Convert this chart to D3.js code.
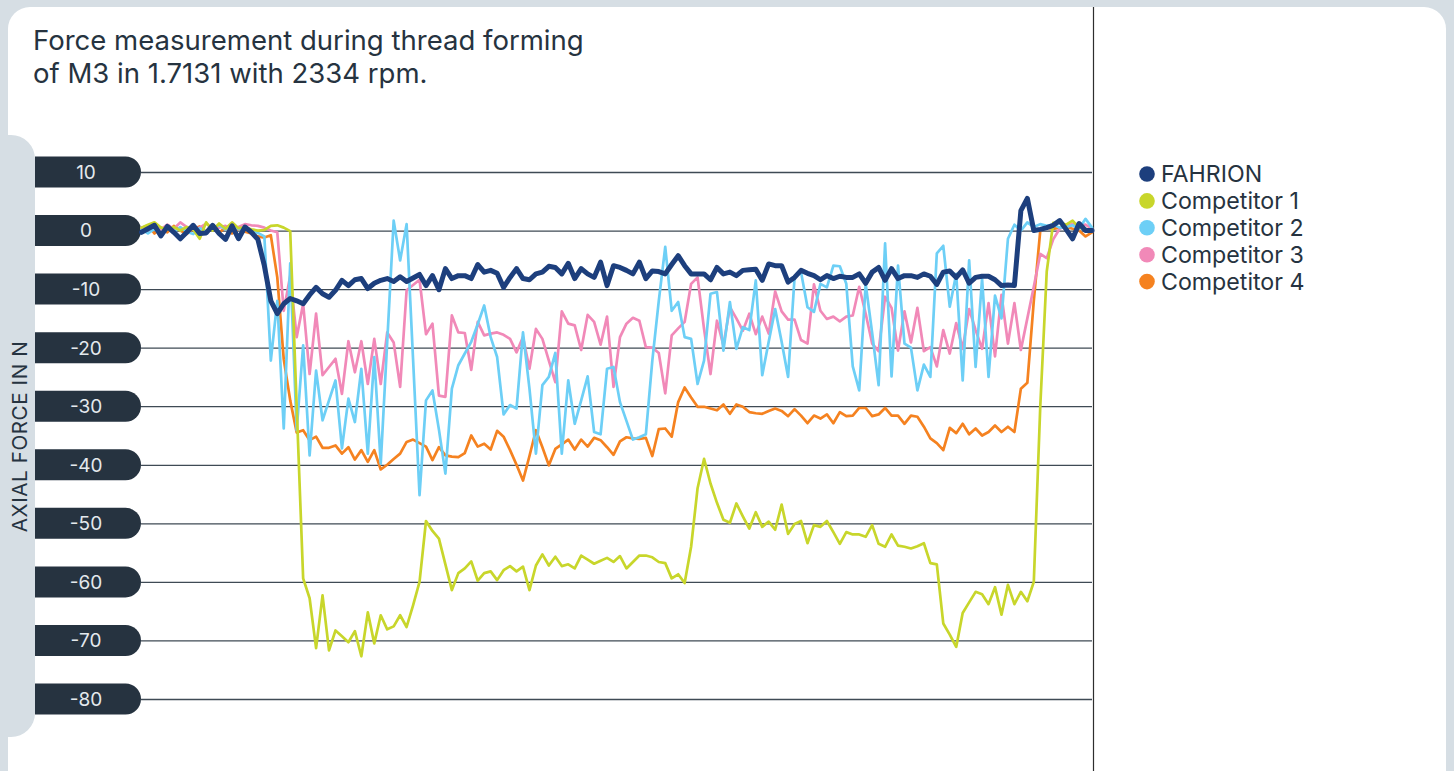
<!DOCTYPE html>
<html>
<head>
<meta charset="utf-8">
<script src="https://cdn.jsdelivr.net/npm/d3@7"></script>
<style>
  body { margin: 0; background: #d6dee4; overflow: hidden; }
  svg text { font-family: Inter, "Noto Sans", sans-serif; }
</style>
</head>
<body>
<div id="chart"></div>
<script>
const width = 1454;
const height = 771;

// ---- data ----
const titleLines = ["Force measurement during thread forming", "of M3 in 1.7131 with 2334 rpm."];
const yTicks = [10, 0, -10, -20, -30, -40, -50, -60, -70, -80];
const seriesNames = ["FAHRION", "Competitor 1", "Competitor 2", "Competitor 3", "Competitor 4"];

const fahrion = [
  -0.3, 0.3, 0.9, -0.9, 0.7, -0.3, -1.4, -0.3, 0.9, -0.5,
  -0.4, 0.9, -0.5, -1.5, 0.8, -1.4, 0.6, -0.3, -1.5, -6.0,
  -12.0, -14.2, -12.5, -11.6, -12.0, -12.5, -11.0, -9.7, -10.8, -11.4,
  -10.2, -8.5, -9.4, -8.4, -8.2, -9.9, -9.0, -8.5, -8.2, -8.7,
  -7.9, -8.7, -8.1, -7.5, -9.4, -7.7, -10.1, -6.5, -8.2, -7.7,
  -7.7, -8.2, -5.8, -7.1, -6.8, -7.3, -9.7, -8.0, -6.5, -8.2,
  -8.4, -7.4, -7.1, -6.1, -6.3, -7.4, -5.6, -8.2, -6.5, -7.4,
  -8.0, -5.4, -9.4, -6.0, -6.3, -6.8, -7.4, -5.4, -8.2, -6.9,
  -7.0, -7.4, -5.8, -4.3, -6.0, -7.4, -7.4, -7.4, -8.4, -6.3,
  -7.4, -7.1, -7.7, -6.8, -6.7, -6.6, -8.5, -5.7, -6.0, -6.0,
  -8.8, -8.0, -6.8, -7.3, -7.7, -8.4, -7.7, -8.2, -7.8, -8.0,
  -8.0, -7.4, -9.0, -7.1, -6.3, -8.5, -6.5, -8.2, -7.7, -7.7,
  -8.0, -7.4, -7.8, -9.2, -7.1, -6.9, -8.0, -6.7, -9.0, -8.0,
  -7.8, -7.8, -8.4, -9.4, -9.3, -9.4, 3.4, 5.5, 0.0, 0.2,
  0.5, 0.9, 1.7, 0.2, -1.4, 1.2, 0.0, 0.0
];

const competitor1 = [
  0.5, 1.0, 1.4, 0.5, 0.2, 0.6, 0.0, 0.6, 0.2, -1.4,
  1.4, 0.0, 1.2, 0.3, 1.4, 0.4, 0.5, 0.2, 0.0, 0.1,
  0.8, 0.9, 0.5, -0.1, -30.0, -59.4, -62.8, -71.3, -62.3, -71.7,
  -68.3, -69.3, -70.3, -68.4, -72.7, -65.2, -70.5, -65.7, -68.1, -67.6,
  -65.7, -67.7, -64.0, -60.0, -49.6, -51.3, -52.6, -57.0, -61.4, -58.5,
  -57.7, -56.5, -59.8, -58.5, -58.2, -59.7, -58.0, -57.3, -58.2, -57.4,
  -61.4, -57.2, -55.3, -57.2, -55.7, -57.3, -57.0, -57.7, -55.5, -56.2,
  -56.9, -56.4, -55.9, -56.6, -55.6, -57.7, -56.6, -55.5, -55.5, -55.8,
  -56.6, -56.8, -59.4, -58.7, -60.2, -54.0, -44.0, -39.0, -43.2, -46.5,
  -49.4, -49.9, -46.6, -48.8, -50.9, -48.1, -50.6, -49.7, -51.1, -46.8,
  -51.8, -50.1, -49.6, -53.4, -50.3, -50.6, -49.6, -51.5, -53.5, -51.5,
  -51.9, -51.9, -52.3, -50.3, -53.5, -54.0, -51.9, -53.8, -54.0, -54.3,
  -53.9, -53.4, -56.8, -57.0, -67.1, -69.0, -71.1, -65.3, -63.5, -61.7,
  -62.1, -63.8, -60.9, -65.6, -60.5, -63.8, -61.7, -63.3, -60.0, -30.0,
  -7.0, 1.3, 1.4, 1.0, 1.7, 0.5, 0.3, 0.0
];

const competitor2 = [
  0.2, -0.5, 0.3, -0.8, 0.5, -0.3, 0.6, -0.2, -0.6, 0.4,
  -0.3, 0.5, 0.9, 0.2, 0.9, 0.3, 0.2, -0.1, -0.4, -1.0,
  -22.2, -12.0, -33.8, -5.6, -34.1, -19.6, -38.4, -23.9, -32.4, -29.0,
  -25.6, -37.2, -28.7, -32.7, -23.6, -38.1, -21.6, -39.8, -19.0, 1.7,
  -5.1, 1.1, -22.0, -45.2, -29.0, -27.3, -34.0, -41.5, -27.0, -23.0,
  -21.0, -19.0, -16.0, -12.8, -18.2, -21.6, -31.4, -29.8, -30.4, -17.4,
  -27.0, -38.1, -26.4, -25.0, -20.9, -38.1, -25.6, -33.0, -29.0, -24.9,
  -34.4, -34.8, -23.6, -23.3, -29.3, -32.5, -35.7, -35.3, -34.8, -22.2,
  -12.0, -2.8, -13.7, -12.2, -18.2, -18.5, -26.2, -22.2, -10.8, -10.5,
  -20.5, -12.2, -20.2, -16.5, -17.0, -8.5, -24.7, -19.0, -13.4, -19.0,
  -25.0, -8.0, -7.1, -13.1, -13.9, -9.1, -9.7, -6.0, -6.1, -9.1,
  -23.2, -27.3, -9.1, -17.5, -26.4, -2.2, -24.9, -6.0, -19.3, -20.0,
  -27.3, -22.9, -25.0, -3.9, -2.6, -13.0, -7.4, -25.6, -5.1, -23.3,
  -8.2, -25.0, -11.1, -15.0, -1.4, 1.0, 0.0, 1.4, 0.6, 1.1,
  0.8, 1.0, 0.5, 0.6, 0.9, 0.3, 2.0, 0.5
];

const competitor3 = [
  0.5, 0.0, 0.9, 0.2, 1.0, 0.3, 1.4, 0.6, 0.2, 0.5,
  1.2, 0.4, 0.5, 0.8, 0.3, 0.6, 1.1, 0.9, 0.8, 0.5,
  0.0, -0.3, -13.7, -7.7, -18.2, -12.5, -24.5, -14.2, -24.7, -23.3,
  -21.9, -27.9, -18.9, -24.2, -18.9, -26.2, -18.5, -26.2, -17.4, -19.1,
  -26.7, -10.2, -9.3, -8.4, -17.7, -15.9, -28.2, -28.4, -14.5, -17.4,
  -17.5, -23.8, -15.6, -17.9, -17.6, -17.4, -17.8, -18.5, -20.8, -18.2,
  -23.6, -16.8, -18.5, -22.2, -25.9, -13.8, -15.9, -16.2, -20.4, -14.4,
  -15.6, -19.5, -14.7, -26.7, -18.2, -15.9, -14.9, -15.4, -19.9, -20.0,
  -20.9, -27.8, -17.9, -16.7, -15.6, -9.1, -8.0, -16.8, -24.5, -15.4,
  -19.6, -13.1, -15.0, -17.1, -14.2, -17.7, -14.7, -17.6, -10.4, -13.8,
  -15.2, -15.2, -18.7, -19.3, -9.2, -13.7, -15.1, -14.7, -15.5, -14.7,
  -14.5, -9.6, -14.2, -19.3, -20.6, -11.3, -13.2, -20.5, -13.8, -19.1,
  -13.2, -20.6, -19.9, -23.2, -17.0, -21.0, -15.8, -20.2, -13.4, -17.0,
  -20.2, -12.4, -21.5, -11.0, -19.3, -12.4, -20.4, -15.0, -9.6, -4.0,
  -4.7, -1.5, 0.3, 0.8, 1.1, 0.9, 1.0, 0.3
];

const competitor4 = [
  0.4, 0.9, -0.5, 0.5, -0.3, 0.8, 0.0, -0.6, 0.3, 0.7,
  -0.2, 0.5, -0.4, 0.6, -0.5, 0.4, -0.2, -0.5, -1.0, -1.2,
  -0.8, -8.0, -22.0, -29.0, -34.5, -34.1, -35.8, -35.2, -37.1, -37.1,
  -36.7, -38.1, -37.0, -39.1, -37.5, -39.5, -37.5, -40.8, -40.0, -39.0,
  -38.1, -36.1, -35.7, -36.3, -36.9, -39.2, -37.0, -38.4, -38.6, -38.7,
  -38.0, -35.0, -36.9, -36.4, -37.4, -34.2, -35.2, -37.5, -40.0, -42.7,
  -38.5, -34.1, -37.0, -40.1, -37.3, -36.5, -35.7, -37.4, -35.7, -36.9,
  -35.4, -35.8, -37.0, -38.3, -36.0, -35.3, -35.5, -35.6, -35.4, -38.5,
  -33.9, -33.8, -35.2, -29.3, -26.8, -28.5, -30.1, -30.1, -30.4, -30.7,
  -29.7, -31.3, -29.7, -30.1, -31.0, -31.2, -31.3, -30.8, -30.4, -30.8,
  -31.7, -30.5, -31.6, -32.9, -31.6, -32.1, -31.4, -32.9, -31.0, -31.7,
  -31.6, -30.3, -30.3, -31.7, -31.4, -30.3, -31.6, -31.6, -33.0, -31.6,
  -31.8, -33.5, -35.5, -36.3, -37.5, -33.7, -34.6, -33.0, -34.8, -33.8,
  -35.0, -34.4, -33.3, -34.4, -33.5, -34.4, -27.0, -26.0, -12.0, 0.0,
  0.5, 0.3, 0.5, 0.6, 0.3, 0.0, -1.0, -0.3
];

const colors = ["#1d3f7d", "#c8d62b", "#6dcff6", "#f189b8", "#f58220"];
const widths = [5, 2.7, 2.7, 2.7, 2.7];
const allSeries = [fahrion, competitor1, competitor2, competitor3, competitor4];

// ---- layout ----
const bg = "#d6dee4";
const ink = "#263340";
const plot = { left: 141, right: 1092, top: 172, bottom: 699 };

const svg = d3.select('#chart').append('svg').attr('width', width).attr('height', height);

svg.append('rect').attr('width', width).attr('height', height).attr('fill', bg);
svg.append('rect').attr('x', 8).attr('y', 7).attr('width', 1438).attr('height', 820)
  .attr('rx', 22).attr('fill', '#fff');

// grey tab behind the y labels
svg.append('rect').attr('x', -30).attr('y', 135).attr('width', 65).attr('height', 602)
  .attr('rx', 24).attr('fill', bg);

const x = d3.scaleLinear().domain([0, fahrion.length - 1]).range([plot.left + 0.5, plot.right]);
const y = d3.scaleLinear().domain([-80, 10]).range([plot.bottom, plot.top]);

// grid lines via axis
const yAxis = d3.axisLeft(y).tickValues(yTicks).tickSize(-(plot.right - plot.left)).tickFormat('');
const gAxis = svg.append('g').attr('transform', `translate(${plot.left},0)`).call(yAxis);
gAxis.select('.domain').remove();
gAxis.selectAll('.tick line').attr('stroke', '#3f4a55').attr('stroke-width', 1.3);

// pills
const pillH = 31, pillL = 35;
const pills = svg.append('g').selectAll('g').data(yTicks).enter().append('g')
  .attr('transform', d => `translate(0,${y(d)})`);
pills.append('path')
  .attr('d', () => {
    const r = pillH / 2, xr = plot.left - r;
    return `M${pillL},${-r} H${xr} A${r},${r} 0 0 1 ${xr},${r} H${pillL} Z`;
  })
  .attr('fill', ink);
pills.append('text')
  .attr('x', 86).attr('y', 0).attr('dy', '0.36em')
  .attr('text-anchor', 'middle')
  .attr('fill', '#e4e9ed').attr('font-size', 19)
  .text(d => d);

// axis title
const axTitle = svg.append('text')
  .attr('transform', 'translate(26.5,436.5) rotate(-90)')
  .attr('text-anchor', 'middle')
  .attr('fill', ink).attr('font-size', 18).attr('letter-spacing', 0.6)
  .text('AXIAL FORCE IN N');
axTitle.attr('font-size', 18 * 193 / axTitle.node().getComputedTextLength());

// divider
svg.append('line').attr('x1', 1093.5).attr('x2', 1093.5).attr('y1', 7).attr('y2', height)
  .attr('stroke', '#2e2e2e').attr('stroke-width', 1.2);

// lines: competitors first, FAHRION on top
const line = d3.line().x((d, i) => x(i)).y(d => y(d));
const order = [4, 3, 2, 1, 0];
svg.append('g').selectAll('path').data(order).enter().append('path')
  .attr('d', k => line(allSeries[k]))
  .attr('fill', 'none')
  .attr('stroke', k => colors[k])
  .attr('stroke-width', k => widths[k])
  .attr('stroke-linejoin', 'round')
  .attr('stroke-linecap', 'round');

// title
const title = svg.append('g');
title.selectAll('text').data(titleLines).enter().append('text')
  .attr('x', 33).attr('y', (d, i) => 50 + i * 33)
  .attr('fill', ink).attr('font-size', 24)
  .text(d => d);
const t0 = title.select('text').node();
const tSize = 24 * 551 / t0.getComputedTextLength();
title.selectAll('text').attr('font-size', tSize);

// legend
const legend = svg.append('g').selectAll('g').data(seriesNames).enter().append('g')
  .attr('transform', (d, i) => `translate(1147,${174 + i * 26.9})`);
legend.append('circle').attr('r', 7.8).attr('fill', (d, i) => colors[i]);
legend.append('text').attr('x', 14).attr('dy', '0.36em')
  .attr('fill', ink).attr('font-size', 20)
  .text(d => d);
const l1 = legend.filter((d, i) => i === 1).select('text').node();
const lSize = 20 * 138 / l1.getComputedTextLength();
legend.selectAll('text').attr('font-size', lSize);
</script>
</body>
</html>
